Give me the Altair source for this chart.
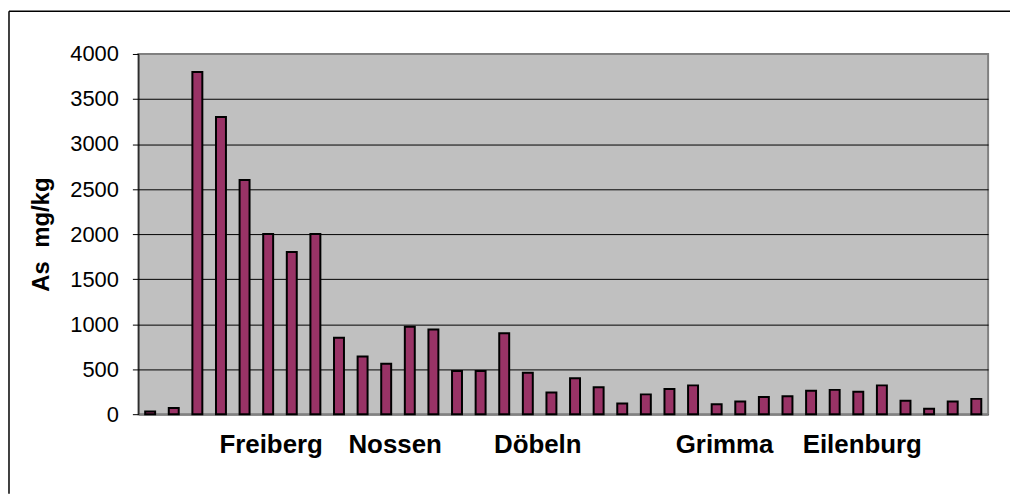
import altair as alt
import pandas as pd

values = [30, 70, 3800, 3300, 2600, 2000, 1800, 2000, 850, 640, 560, 970, 940,
          480, 480, 900, 460, 240, 400, 300, 120, 220, 280, 320, 110, 140, 190,
          200, 260, 270, 250, 320, 150, 60, 140, 170]
sample_ids = [str(i + 1) for i in range(len(values))]
site_names = {"6": "Freiberg", "11": "Nossen", "17": "Döbeln", "25": "Grimma", "31": "Eilenburg"}
label_shift = {"6": 3, "11": 9, "17": 10, "25": 8, "31": 4}
y_ticks = [0, 500, 1000, 1500, 2000, 2500, 3000, 3500, 4000]

df = pd.DataFrame({"sample": sample_ids, "as": values})

label_expr = "".join(f"datum.value == '{k}' ? '{v}' : " for k, v in site_names.items()) + "''"
label_offset = {
    "condition": [{"test": f"datum.value == '{k}'", "value": v} for k, v in label_shift.items()],
    "value": 0,
}

W, H = 854, 362
PL, PT, PR, PB = 131, 45, 22, 80

bars = alt.Chart(df).mark_bar(
    width=10, color="#993366", stroke="#000000", strokeWidth=2
).encode(
    x=alt.X("sample:O", sort=sample_ids,
            scale=alt.Scale(paddingInner=0, paddingOuter=0),
            axis=alt.Axis(title=None, labelExpr=label_expr, labelAngle=0,
                          labelOffset=label_offset,
                          ticks=False, labelFont="Liberation Sans", labelFontSize=26,
                          labelFontWeight="bold", labelColor="#000", labelPadding=18,
                          domainColor="#808080", domainWidth=2, grid=False)),
    y=alt.Y("as:Q", scale=alt.Scale(domain=[0, 4000], nice=False),
            axis=alt.Axis(values=y_ticks, format="d", title="As \u00a0mg/kg",
                          titleFont="Liberation Sans",
                          titleFontSize=24, titleFontWeight="bold", titleColor="#000",
                          titlePadding=16,
                          labelFont="Liberation Sans", labelFontSize=22, labelColor="#000",
                          labelPadding=14, tickSize=6, tickColor="#000", domainColor="#000",
                          gridColor={"condition": {"test": "datum.value == 4000", "value": "#808080"}, "value": "#000"},
                          gridWidth=1)),
)

one = pd.DataFrame({"a": [0]})
frame_top = alt.Chart(one).mark_rule(color="#000000", strokeWidth=1.5).encode(
    x=alt.value(-PL + 1), x2=alt.value(W + PR), y=alt.value(-PT + 2)
)
frame_left = alt.Chart(one).mark_rule(color="#000000", strokeWidth=1.5).encode(
    x=alt.value(-PL + 1), y=alt.value(-PT + 2), y2=alt.value(H + PB)
)

chart = alt.layer(bars, frame_top, frame_left).properties(
    width=W, height=H,
    autosize=alt.AutoSizeParams(type="none"),
    padding={"left": PL, "top": PT, "right": PR, "bottom": PB},
).configure_view(fill="#C0C0C0", stroke="#808080", strokeWidth=2)

chart.save("out.html", embed_options={"renderer": "svg", "actions": False})
